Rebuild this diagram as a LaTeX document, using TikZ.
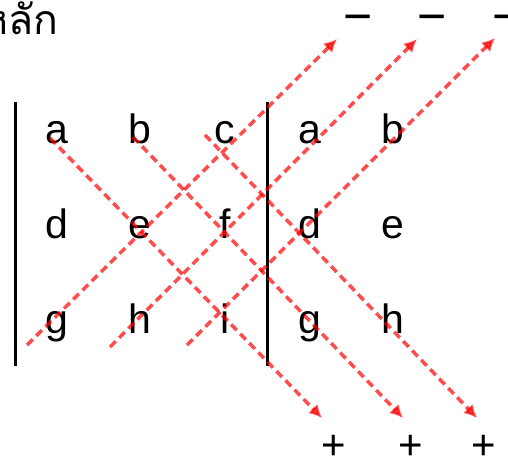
\documentclass[tikz,border=0pt]{standalone}
\usepackage{fontspec}
\setmainfont{Liberation Sans}
\newfontfamily\thaifont[Script=Thai]{Loma}
\usetikzlibrary{arrows.meta}
\begin{document}
\begin{tikzpicture}[x=1pt,y=-1pt,
  ent/.style={font=\fontsize{41}{41}\selectfont, anchor=base, inner sep=0pt},
  minus/.style={font=\fontsize{50}{50}\selectfont, inner sep=0pt},
  plus/.style={font=\fontsize{42}{42}\selectfont, inner sep=0pt},
  bar/.style={line width=3pt, black},
  diag/.style={draw=red, opacity=0.7, line width=3.5pt, dash pattern=on 8pt off 5pt,
    -{Latex[length=13pt,width=13pt]}}]
\useasboundingbox (0,0) rectangle (508,456);
\clip (0,0) rectangle (508,456);
% title
\node[font=\thaifont\fontsize{41}{41}\selectfont, anchor=base east, inner sep=0pt] (title) at (59,34) {หลัก};
% entries
\node[ent] (a1) at (57,143) {a};
\node[ent] (b1) at (140,143) {b};
\node[ent] (c1) at (225,143) {c};
\node[ent] (a2) at (310,143) {a};
\node[ent] (b2) at (393,143) {b};
\node[ent] (d1) at (57,238) {d};
\node[ent] (e1) at (140,238) {e};
\node[ent] (f1) at (225,238) {f};
\node[ent] (d2) at (310,238) {d};
\node[ent] (e2) at (393,238) {e};
\node[ent] (g1) at (57,333) {g};
\node[ent] (h1) at (140,333) {h};
\node[ent] (i1) at (225,333) {i};
\node[ent] (g2) at (310,333) {g};
\node[ent] (h2) at (393,333) {h};
% bars
\coordinate (lt) at (15,102); \coordinate (lb) at (15,366);
\coordinate (rt) at (267,102); \coordinate (rb) at (267,366);
\draw[bar] (lt) -- (lb);
\draw[bar] (rt) -- (rb);
% signs
\node[minus] (m1) at (358,24) {−};
\node[minus] (m2) at (432,24) {−};
\node[minus] (m3) at (507,24) {−};
\node[plus] (p1) at (334,447) {+};
\node[plus] (p2) at (411,447) {+};
\node[plus] (p3) at (484,447) {+};
% arrow end points
\coordinate (s1) at (50,138);  \coordinate (t1) at (322,418);
\coordinate (s2) at (133,137); \coordinate (t2) at (403,418);
\coordinate (s3) at (205,135); \coordinate (t3) at (477,418);
\coordinate (u1) at (27,345);  \coordinate (v1) at (337,39);
\coordinate (u2) at (110,347); \coordinate (v2) at (417,39);
\coordinate (u3) at (187,345); \coordinate (v3) at (495,38);
\draw[diag] (s1) -- (t1);
\draw[diag] (s2) -- (t2);
\draw[diag] (s3) -- (t3);
\draw[diag] (u1) -- (v1);
\draw[diag] (u2) -- (v2);
\draw[diag] (u3) -- (v3);
\end{tikzpicture}
\end{document}
